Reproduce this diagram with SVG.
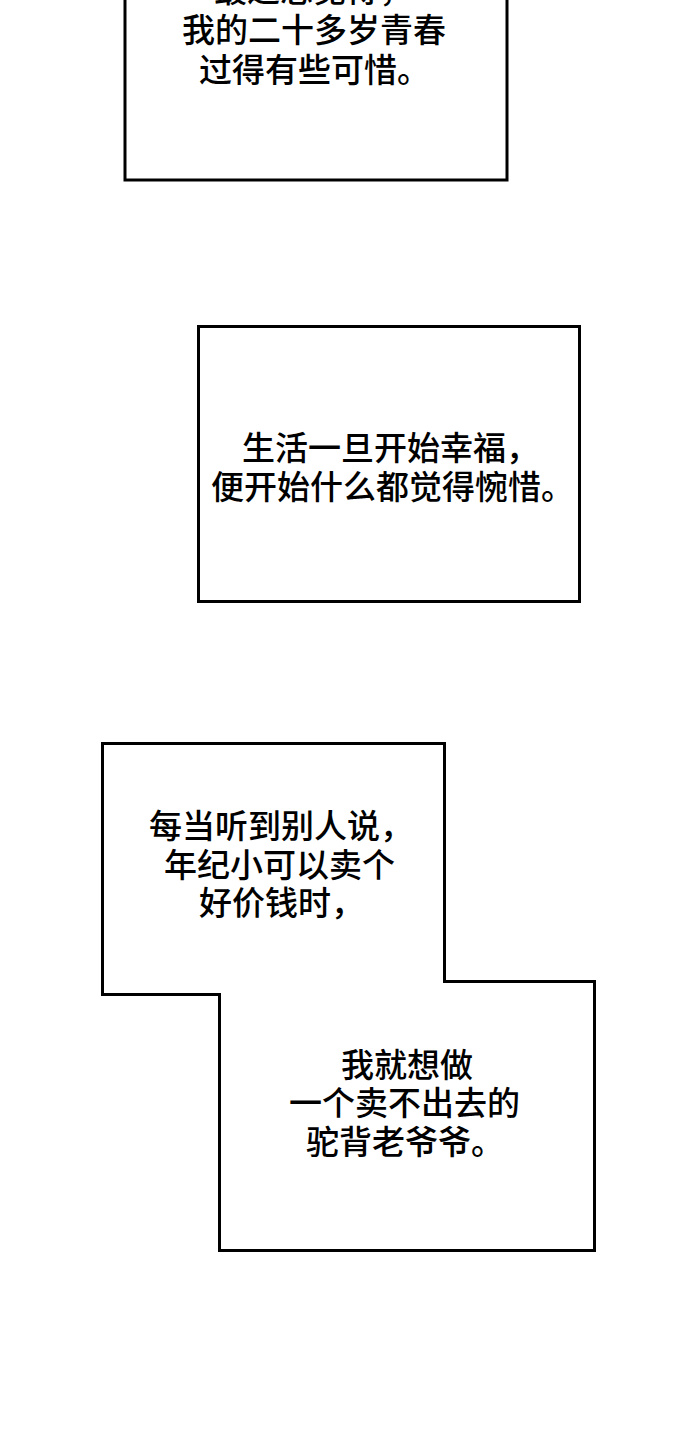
<svg xmlns="http://www.w3.org/2000/svg" width="684" height="1440" viewBox="0 0 684 1440">
<style>
.box{fill:#fff;stroke:#000;stroke-width:3;stroke-linejoin:miter}
.t{font-family:"Noto Sans CJK SC","Noto Sans CJK TC",sans-serif;font-size:33px;font-weight:500;fill:#000}
</style>
<rect x="0" y="0" width="684" height="1440" fill="#fff"/>
<g id="box1">
<rect class="box" x="125" y="-10" width="382" height="190"/>
<text class="t" x="214" y="2">最近总觉得，</text>
<text class="t" x="182" y="42">我的二十多岁青春</text>
<text class="t" x="199" y="82">过得有些可惜。</text>
</g>
<g id="box2">
<rect class="box" x="198.5" y="326.5" width="381" height="275"/>
<text class="t" x="242" y="460">生活一旦开始幸福，</text>
<text class="t" x="211" y="499">便开始什么都觉得惋惜。</text>
</g>
<g id="box3">
<path class="box" d="M102.5,743.5 H444.5 V981.5 H594.5 V1250.5 H219.5 V994.5 H102.5 Z"/>
<text class="t" x="149" y="838">每当听到别人说，</text>
<text class="t" x="164" y="877">年纪小可以卖个</text>
<text class="t" x="199" y="915">好价钱时，</text>
<text class="t" x="341" y="1077">我就想做</text>
<text class="t" x="289" y="1115">一个卖不出去的</text>
<text class="t" x="306" y="1154">驼背老爷爷。</text>
</g>
<g id="connectors"/>
</svg>
